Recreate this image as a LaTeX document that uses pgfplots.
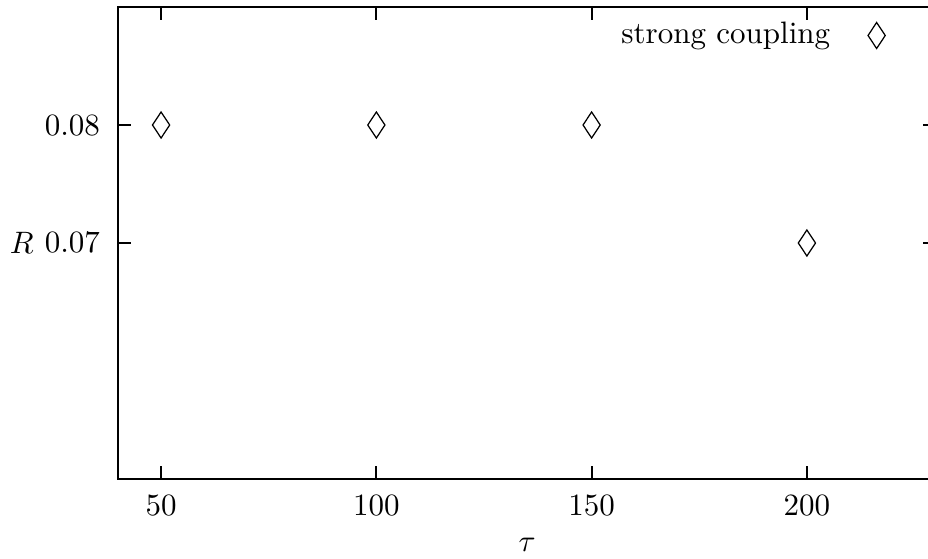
\documentclass[border=0pt]{standalone}
\usepackage{pgfplots}
\pgfplotsset{compat=1.18}
\begin{document}
\begin{tikzpicture}
\begin{axis}[
    name=ax,
    scale only axis,
    width=263.8pt, height=152.2pt,
    xmin=40, xmax=230, ymin=0.05, ymax=0.09,
    xtick={50,100,150,200}, ytick={0.07,0.08},
    scaled y ticks=false,
    yticklabel style={/pgf/number format/fixed,/pgf/number format/precision=2,
        /pgf/number format/fixed zerofill, xshift=-2.3pt},
    xticklabel style={yshift=-1.9pt},
    tick align=inside, major tick length=4.2pt,
    axis line style={line width=0.65pt},
    every tick/.style={line width=0.65pt, black},
    xlabel={$\tau$}, ylabel={$R$},
    xlabel style={at={(rel axis cs:0.5,0)}, anchor=center, yshift=-21.3pt},
    ylabel style={at={(rel axis cs:0,0.5)}, anchor=center, rotate=-90, xshift=-31pt},
    legend plot pos=right,
    legend image code/.code={\path (0pt,0pt); \draw[#1] plot coordinates {(12.8pt,0pt)};},
    legend style={draw=none, fill=none, at={(rel axis cs:0.95,0.995)}, anchor=north east,
        font=\normalsize},
    legend cell align=right,
    clip=false,
]
\addplot[only marks, mark=diamond, mark size=4.2pt,
    mark options={xscale=0.88, line width=0.4pt, fill=white}]
    coordinates {(50,0.08) (100,0.08) (150,0.08) (200,0.07)};
\addlegendentry{strong coupling}
\end{axis}
\pgfresetboundingbox
\path (ax.south west) +(-38.06pt,-25.48pt) (ax.south west) +(261.2pt,154.46pt);
\end{tikzpicture}
\end{document}
